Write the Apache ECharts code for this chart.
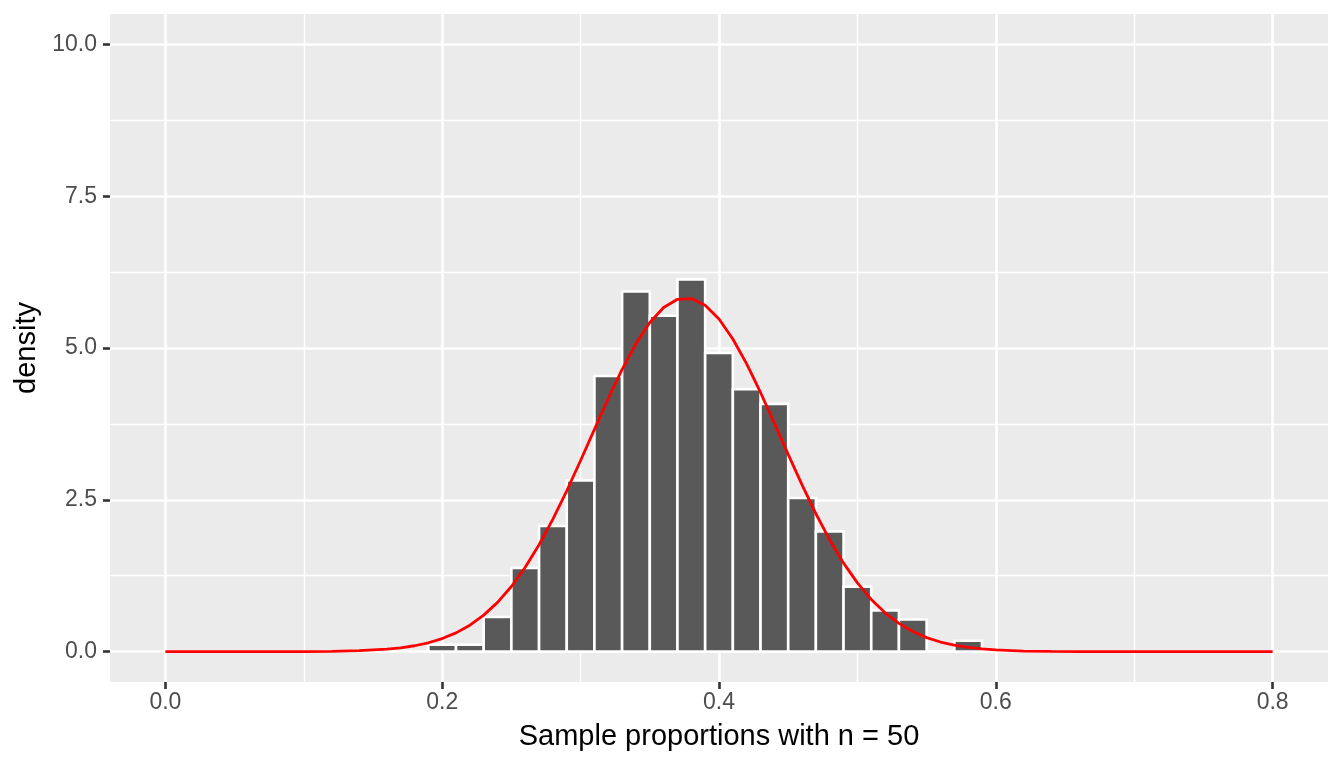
<!DOCTYPE html>
<html>
<head>
<meta charset="utf-8">
<title>Sample proportions</title>
<script src="https://cdn.jsdelivr.net/npm/echarts@6/dist/echarts.min.js"></script>
<style>
    html, body { margin: 0; padding: 0; background: #fff; }
    #main { width: 1344px; height: 768px; }
</style>
</head>
<body>
<div id="main"></div>
<script>
// histogram bins (centre of each 0.02 wide bin) and their density
var binMid = [0.20, 0.22, 0.24, 0.26, 0.28, 0.30, 0.32, 0.34, 0.36, 0.38,
    0.40, 0.42, 0.44, 0.46, 0.48, 0.50, 0.52, 0.54, 0.56, 0.58];
var binDensity = [0.115, 0.115, 0.57, 1.38, 2.07, 2.82, 4.54, 5.93, 5.53, 6.13,
    4.92, 4.32, 4.08, 2.53, 1.98, 1.07, 0.68, 0.53, 0, 0.18];
var binWidth = 0.02;

// red normal curve
var curveX = [0, 0.04, 0.08, 0.10, 0.12, 0.14, 0.16, 0.17, 0.18, 0.19,
    0.20, 0.21, 0.22, 0.23, 0.24, 0.25, 0.26, 0.27, 0.28, 0.29,
    0.30, 0.31, 0.32, 0.33, 0.34, 0.35, 0.36, 0.37, 0.38, 0.39,
    0.40, 0.41, 0.42, 0.43, 0.44, 0.45, 0.46, 0.47, 0.48, 0.49,
    0.50, 0.51, 0.52, 0.53, 0.54, 0.55, 0.56, 0.57, 0.58, 0.59,
    0.60, 0.62, 0.64, 0.66, 0.70, 0.75, 0.80];
var curveY = [0, 0, 0.0005, 0.0017, 0.0054, 0.0155, 0.040, 0.063, 0.097, 0.146,
    0.215, 0.309, 0.436, 0.601, 0.811, 1.073, 1.389, 1.760, 2.182, 2.649,
    3.148, 3.660, 4.169, 4.648, 5.072, 5.419, 5.667, 5.802, 5.814, 5.703,
    5.478, 5.149, 4.738, 4.268, 3.764, 3.249, 2.746, 2.271, 1.839, 1.458,
    1.132, 0.860, 0.639, 0.465, 0.331, 0.231, 0.158, 0.106, 0.069, 0.044,
    0.028, 0.010, 0.0035, 0.001, 0.0001, 0, 0];

// axis ticks and grid lines
var xTicks = [0, 0.2, 0.4, 0.6, 0.8];
var xMinor = [0.1, 0.3, 0.5, 0.7];
var yTicks = [0, 2.5, 5, 7.5, 10];
var yMinor = [1.25, 3.75, 6.25, 8.75];

var xTitle = 'Sample proportions with n = 50';
var yTitle = 'density';

var chart = echarts.init(document.getElementById('main'), null, {renderer: 'canvas'});

var barData = [];
for (var i = 0; i < binMid.length; i++) {
    barData.push([binMid[i], binDensity[i]]);
}
var curveData = [];
for (var j = 0; j < curveX.length; j++) {
    curveData.push([curveX[j], curveY[j]]);
}

// white panel grid drawn as mark lines under the bars
var gridLines = [];
xMinor.forEach(function (v) {
    gridLines.push({xAxis: v, lineStyle: {width: 1.4}});
});
yMinor.forEach(function (v) {
    gridLines.push({yAxis: v, lineStyle: {width: 1.4}});
});
xTicks.forEach(function (v) {
    gridLines.push({xAxis: v, lineStyle: {width: 2.6}});
});
yTicks.forEach(function (v) {
    gridLines.push({yAxis: v, lineStyle: {width: 2.6}});
});

var fontName = '"Liberation Sans", Arial, sans-serif';

var option = {
    backgroundColor: '#ffffff',
    animation: false,
    grid: {
        left: 110,
        right: 16,
        top: 14,
        bottom: 86,
        show: true,
        backgroundColor: '#EBEBEB',
        borderWidth: 0
    },
    xAxis: {
        type: 'value',
        min: -0.04,
        max: 0.84,
        name: xTitle,
        nameLocation: 'middle',
        nameGap: 40,
        nameTextStyle: {color: '#000', fontSize: 29, fontFamily: fontName},
        axisLine: {show: false, onZero: false},
        axisTick: {
            show: true,
            length: 7,
            customValues: xTicks,
            lineStyle: {color: '#333333', width: 2.6}
        },
        axisLabel: {
            customValues: xTicks,
            margin: 9,
            color: '#4D4D4D',
            fontSize: 23,
            fontFamily: fontName,
            formatter: function (v) { return v.toFixed(1); }
        },
        splitLine: {show: false}
    },
    yAxis: {
        type: 'value',
        min: -0.5,
        max: 10.5,
        name: yTitle,
        nameLocation: 'middle',
        nameGap: 68,
        nameTextStyle: {color: '#000', fontSize: 29, fontFamily: fontName},
        axisLine: {show: false, onZero: false},
        axisTick: {
            show: true,
            length: 7,
            customValues: yTicks,
            lineStyle: {color: '#333333', width: 2.6}
        },
        axisLabel: {
            customValues: yTicks,
            margin: 13,
            color: '#4D4D4D',
            fontSize: 23,
            fontFamily: fontName,
            formatter: function (v) { return v.toFixed(1); }
        },
        splitLine: {show: false}
    },
    series: [
        {
            name: 'grid',
            type: 'line',
            data: [],
            silent: true,
            z: 1,
            markLine: {
                silent: true,
                symbol: 'none',
                z: 1,
                animation: false,
                label: {show: false},
                lineStyle: {color: '#ffffff', type: 'solid'},
                emphasis: {disabled: true},
                data: gridLines
            }
        },
        {
            name: 'histogram',
            type: 'custom',
            z: 2,
            data: barData,
            renderItem: function (params, api) {
                var x = api.value(0);
                var y = api.value(1);
                var p0 = api.coord([x - binWidth / 2, y]);
                var p1 = api.coord([x + binWidth / 2, 0]);
                return {
                    type: 'rect',
                    shape: {x: p0[0], y: p0[1], width: p1[0] - p0[0], height: p1[1] - p0[1]},
                    style: {fill: '#595959', stroke: '#ffffff', lineWidth: 2.6}
                };
            }
        },
        {
            name: 'normal',
            type: 'line',
            z: 3,
            data: curveData,
            showSymbol: false,
            smooth: false,
            lineStyle: {color: '#FF0000', width: 2.8}
        }
    ]
};

chart.setOption(option);
</script>
</body>
</html>
